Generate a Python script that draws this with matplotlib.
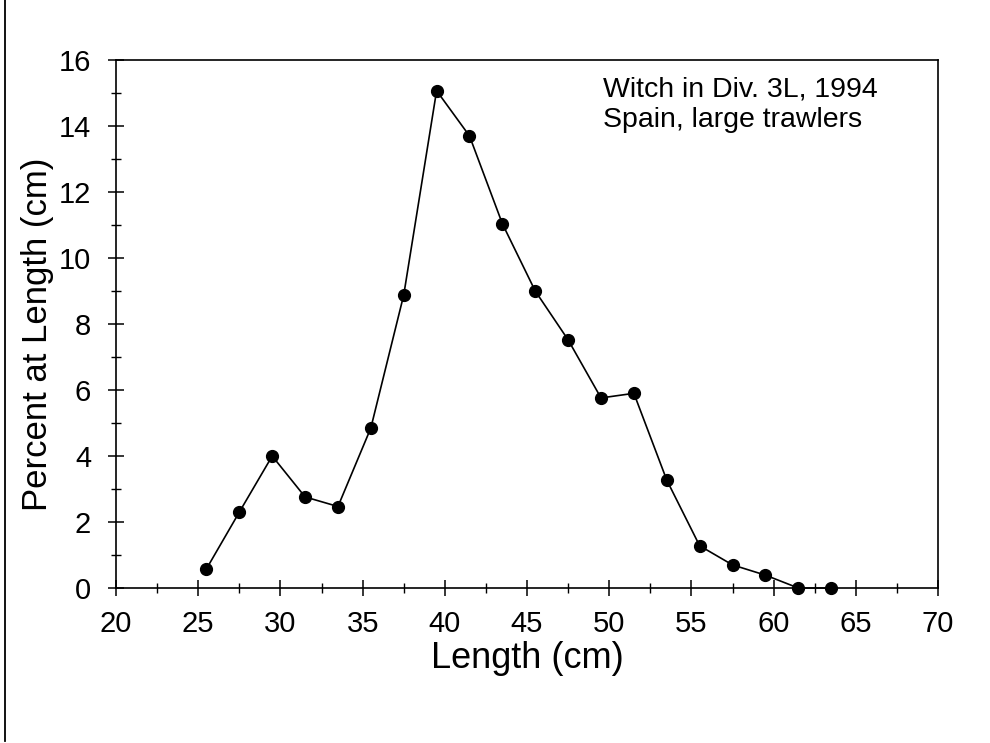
import matplotlib
matplotlib.use("Agg")
import matplotlib.pyplot as plt
from matplotlib.lines import Line2D
from matplotlib.ticker import MultipleLocator

plt.rcParams['font.family'] = ['Liberation Sans', 'DejaVu Sans']

# length classes (cm) and percent at length
lengths = [25.5, 27.5, 29.5, 31.5, 33.5, 35.5, 37.5, 39.5, 41.5, 43.5,
           45.5, 47.5, 49.5, 51.5, 53.5, 55.5, 57.5, 59.5, 61.5, 63.5]
percent = [0.58, 2.3, 4.0, 2.76, 2.47, 4.85, 8.88, 15.07, 13.7, 11.04,
           9.0, 7.52, 5.76, 5.9, 3.27, 1.28, 0.70, 0.39, 0.0, 0.0]

fig = plt.figure(figsize=(9.9, 7.43), dpi=100)
ax = fig.add_axes([0.1172, 0.2086, 0.8303, 0.7106])

ax.plot(lengths, percent, color='black', linewidth=1.2, marker='o',
        markersize=8.5, markerfacecolor='black', markeredgecolor='black',
        clip_on=False, zorder=3)

ax.set_xlim(20, 70)
ax.set_ylim(0, 16)
ax.xaxis.set_major_locator(MultipleLocator(5))
ax.xaxis.set_minor_locator(MultipleLocator(2.5))
ax.yaxis.set_major_locator(MultipleLocator(2))
ax.yaxis.set_minor_locator(MultipleLocator(1))

ax.tick_params(which='major', direction='inout', length=12, width=1.1,
               labelsize=21, top=False, right=False)
ax.tick_params(which='minor', direction='inout', length=7, width=1.0,
               top=False, right=False)
ax.tick_params(axis='x', which='major', pad=10)
ax.tick_params(axis='y', which='major', pad=12)

for sp in ax.spines.values():
    sp.set_linewidth(1.2)

ax.set_xlabel('Length (cm)', fontsize=26, labelpad=2)
ax.set_ylabel('Percent at Length (cm)', fontsize=25)
ax.yaxis.set_label_coords(-0.075, 0.48)

ax.text(49.6, 15.5, 'Witch in Div. 3L, 1994\nSpain, large trawlers',
        fontsize=20.5, va='top', ha='left', linespacing=1.2)

# scanned page edge on the left
fig.add_artist(Line2D([5 / 990, 5 / 990], [0.003, 1.0], color='black',
                      linewidth=1.3))

fig.savefig('out.png', dpi=100)
